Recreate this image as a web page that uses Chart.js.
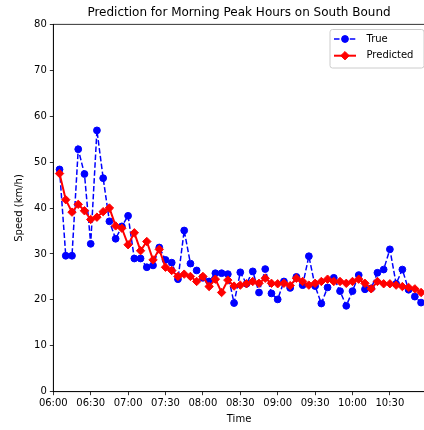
<!DOCTYPE html>
<html>
<head>
<meta charset="utf-8">
<script src="https://cdn.jsdelivr.net/npm/chart.js@4.4.1/dist/chart.umd.min.js"></script>
<style>
	html, body { margin: 0; padding: 0; overflow: hidden; background: #fff; }
</style>
</head>
<body>
<canvas id="chart" width="430" height="430"></canvas>
<script>
const times = [
	'06:05', '06:10', '06:15', '06:20', '06:25', '06:30', '06:35', '06:40', '06:45', '06:50',
	'06:55', '07:00', '07:05', '07:10', '07:15', '07:20', '07:25', '07:30', '07:35', '07:40',
	'07:45', '07:50', '07:55', '08:00', '08:05', '08:10', '08:15', '08:20', '08:25', '08:30',
	'08:35', '08:40', '08:45', '08:50', '08:55', '09:00', '09:05', '09:10', '09:15', '09:20',
	'09:25', '09:30', '09:35', '09:40', '09:45', '09:50', '09:55', '10:00', '10:05', '10:10',
	'10:15', '10:20', '10:25', '10:30', '10:35', '10:40', '10:45', '10:50', '10:55'
];

const trueSpeed = [
	48.4, 29.6, 29.6, 52.8, 47.4, 32.2, 56.9, 46.5, 37.1, 33.3,
	36.0, 38.3, 29.0, 29.0, 27.1, 27.5, 31.4, 28.7, 28.1, 24.5,
	35.1, 27.9, 26.4, 24.8, 24.0, 25.8, 25.8, 25.6, 19.3, 26.0,
	23.5, 26.2, 21.6, 26.7, 21.4, 20.1, 24.0, 22.6, 25.0, 23.2,
	29.5, 23.0, 19.2, 22.7, 24.8, 21.9, 18.7, 21.9, 25.4, 22.3,
	22.5, 25.9, 26.6, 31.0, 23.5, 26.6, 22.2, 20.7, 19.4
];

const predictedSpeed = [
	47.5, 41.8, 39.1, 40.8, 39.4, 37.5, 38.0, 39.2, 40.0, 36.1,
	35.6, 32.0, 34.6, 30.7, 32.7, 28.7, 31.0, 27.1, 26.4, 25.1,
	25.6, 25.1, 24.0, 25.1, 22.9, 24.5, 21.6, 24.3, 23.0, 23.2,
	23.5, 24.0, 23.6, 24.7, 23.6, 23.5, 23.6, 23.1, 24.7, 24.0,
	23.2, 23.6, 24.0, 24.5, 24.0, 24.0, 23.6, 24.0, 24.5, 23.6,
	22.4, 24.0, 23.5, 23.5, 23.2, 22.9, 22.7, 22.4, 21.6
];

const FONT = '"DejaVu Sans", sans-serif';

// minutes after 06:00
const toMin = (s) => {
	const [h, m] = s.split(':').map(Number);
	return (h - 6) * 60 + m;
};
const fmt = (v) => {
	const h = 6 + Math.floor(v / 60);
	const m = v % 60;
	return String(h).padStart(2, '0') + ':' + String(m).padStart(2, '0');
};

const toPoints = (arr) => times.map((t, i) => ({ x: toMin(t), y: arr[i] }));

const decor = {
	id: 'decor',
	afterDraw(chart) {
		const { ctx, chartArea: a } = chart;
		ctx.save();
		// frame
		ctx.strokeStyle = '#000';
		ctx.lineWidth = 0.8;
		ctx.strokeRect(a.left, a.top, a.right - a.left, a.bottom - a.top);

		// title
		ctx.fillStyle = '#000';
		ctx.font = '12px ' + FONT;
		ctx.textAlign = 'center';
		ctx.textBaseline = 'middle';
		ctx.fillText('Prediction for Morning Peak Hours on South Bound', (a.left + a.right) / 2, 12.5);

		// axis titles
		ctx.font = '10px ' + FONT;
		ctx.fillText('Time', (a.left + a.right) / 2, 419);
		ctx.save();
		ctx.translate(19, (a.top + a.bottom) / 2);
		ctx.rotate(-Math.PI / 2);
		ctx.fillText('Speed (km/h)', 0, 0);
		ctx.restore();

		// legend
		const bx = 330, by = 29.5, bw = 94, bh = 38.5, r = 2.5;
		ctx.beginPath();
		ctx.moveTo(bx + r, by);
		ctx.arcTo(bx + bw, by, bx + bw, by + bh, r);
		ctx.arcTo(bx + bw, by + bh, bx, by + bh, r);
		ctx.arcTo(bx, by + bh, bx, by, r);
		ctx.arcTo(bx, by, bx + bw, by, r);
		ctx.closePath();
		ctx.fillStyle = 'rgba(255,255,255,0.8)';
		ctx.fill();
		ctx.strokeStyle = '#cccccc';
		ctx.lineWidth = 1;
		ctx.stroke();

		const rows = [
			{ label: 'True', color: '#0000ff', dash: [5.5, 2.4], shape: 'circle', y: 39, w: 1.5 },
			{ label: 'Predicted', color: '#ff0000', dash: [], shape: 'rectRot', y: 55.7, w: 2 },
		];
		rows.forEach((row) => {
			ctx.strokeStyle = row.color;
			ctx.lineWidth = row.w;
			ctx.setLineDash(row.dash);
			ctx.beginPath();
			ctx.moveTo(334, row.y);
			ctx.lineTo(356, row.y);
			ctx.stroke();
			ctx.setLineDash([]);
			ctx.fillStyle = row.color;
			ctx.lineWidth = 1;
			Chart.helpers.drawPoint(ctx, {
				pointStyle: row.shape,
				radius: row.shape === 'circle' ? 3.4 : 4.2,
				borderWidth: 1,
			}, 345, row.y);
			ctx.fillStyle = '#000';
			ctx.font = '10px ' + FONT;
			ctx.textAlign = 'left';
			ctx.textBaseline = 'middle';
			ctx.fillText(row.label, 366.5, row.y);
		});
		ctx.restore();
	}
};

new Chart(document.getElementById('chart'), {
	type: 'line',
	data: {
		datasets: [
			{
				label: 'True',
				data: toPoints(trueSpeed),
				borderColor: '#0000ff',
				backgroundColor: '#0000ff',
				borderWidth: 1.5,
				borderDash: [5.5, 2.4],
				pointStyle: 'circle',
				pointRadius: 3.4,
				pointBorderWidth: 1,
				tension: 0,
				order: 1,
			},
			{
				label: 'Predicted',
				data: toPoints(predictedSpeed),
				borderColor: '#ff0000',
				backgroundColor: '#ff0000',
				borderWidth: 2,
				pointStyle: 'rectRot',
				pointRadius: 4.2,
				pointBorderWidth: 1,
				tension: 0,
				order: 0,
			},
		]
	},
	options: {
		responsive: false,
		animation: false,
		layout: { padding: { left: 0, top: 24.3, right: 1, bottom: 0 } },
		plugins: {
			legend: { display: false },
			title: { display: false },
			tooltip: { enabled: false },
		},
		scales: {
			x: {
				type: 'linear',
				min: 0,
				max: 298,
				afterFit: (s) => { s.height = 38.3; },
				afterBuildTicks: (s) => { s.ticks = s.ticks.filter((t) => t.value % 30 === 0); },
				ticks: {
					stepSize: 30,
					autoSkip: false,
					maxRotation: 0,
					padding: 2,
					color: '#000',
					font: { family: FONT, size: 10 },
					callback: (v) => fmt(v),
				},
				grid: { drawOnChartArea: false, tickLength: 3.5, color: '#000', tickWidth: 0.8 },
				border: { color: '#000', width: 0.8 },
			},
			y: {
				min: 0,
				max: 80,
				afterFit: (s) => { s.width = 53.3; },
				ticks: {
					stepSize: 10,
					padding: 3,
					color: '#000',
					font: { family: FONT, size: 10 },
				},
				grid: { drawOnChartArea: false, tickLength: 3.5, color: '#000', tickWidth: 0.8 },
				border: { color: '#000', width: 0.8 },
			}
		}
	},
	plugins: [decor],
});
</script>
</body>
</html>
